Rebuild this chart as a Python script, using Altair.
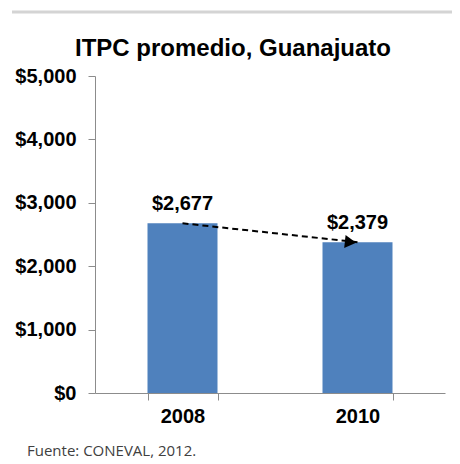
import altair as alt
import pandas as pd
import math

years = ["2008", "2010"]
values = [2677, 2379]
y_ticks = [0, 1000, 2000, 3000, 4000, 5000]
title_text = "ITPC promedio, Guanajuato"
source_text = "Fuente: CONEVAL, 2012."

W, H = 350, 317
df = pd.DataFrame({"year": years, "value": values})
arrow = pd.DataFrame({"x": [years[0]], "x2": [years[1]], "y": [values[0]], "y2": [values[1]]})

FONT = "Liberation Sans"

xscale = alt.Scale(domain=years, paddingInner=0.6, paddingOuter=0.3)
yscale = alt.Scale(domain=[0, 5000])

bars = alt.Chart(df).mark_bar(color="#4F81BD").encode(
    x=alt.X("year:N", scale=xscale, sort=years, axis=alt.Axis(
        title=None, labelAngle=0, labelFont=FONT, labelFontSize=20, labelFontWeight="bold",
        labelColor="#000000", domainColor="#8c8c8c", tickColor="#8c8c8c", tickSize=7,
        tickBand="extent", labelPadding=6)),
    y=alt.Y("value:Q", scale=yscale, axis=alt.Axis(
        title=None, values=y_ticks, format="$,.0f", grid=False, labelFont=FONT,
        labelFontSize=20, labelFontWeight="bold", labelColor="#000000",
        domainColor="#8c8c8c", tickColor="#8c8c8c", tickSize=7, labelPadding=12)),
)

labels = alt.Chart(df).mark_text(
    font=FONT, fontSize=20, fontWeight="bold", color="#000000", baseline="alphabetic", dy=-13
).encode(x=alt.X("year:N", scale=xscale, sort=years), y="value:Q", text=alt.Text("value:Q", format="$,.0f"))

# angle of arrow in pixel space
step = W / 2.0
dx = step
dy = (values[0] - values[1]) / 5000 * H
ang = math.degrees(math.atan2(dy, dx))

line = alt.Chart(arrow).mark_rule(color="#000000", strokeWidth=2, strokeDash=[6, 4]).encode(
    x=alt.X("x:N", scale=xscale, sort=years), x2="x2:N", y="y:Q", y2="y2:Q"
)
head = alt.Chart(arrow).mark_point(
    shape="triangle-right", filled=True, color="#000000", opacity=1, size=170, angle=ang, xOffset=-7
).encode(x=alt.X("x2:N", scale=xscale, sort=years), y=alt.Y("y2:Q"))

title = alt.Chart(pd.DataFrame({"t": [title_text]})).mark_text(
    font=FONT, fontSize=24, fontWeight="bold", color="#000000", align="center", baseline="alphabetic"
).encode(x=alt.value(138), y=alt.value(-20), text="t:N")

source = alt.Chart(pd.DataFrame({"t": [source_text]})).mark_text(
    font="Open Sans", fontSize=15, color="#404040", align="left", baseline="alphabetic"
).encode(x=alt.value(-68), y=alt.value(380), text="t:N")

topline = alt.Chart(pd.DataFrame({"a": [0]})).mark_rule(color="#d4d4d4", strokeWidth=3).encode(
    x=alt.value(-83), x2=alt.value(380), y=alt.value(-64)
)

chart = alt.layer(topline, bars, line, head, labels, title, source).properties(
    width=W, height=H,
    autosize=alt.AutoSizeParams(type="none"),
    padding={"left": 87, "top": 68, "right": 7, "bottom": 71},
).configure(background="#ffffff").configure_view(stroke="transparent", strokeWidth=0)

chart.save("out.html", embed_options={"renderer": "svg", "actions": False})
